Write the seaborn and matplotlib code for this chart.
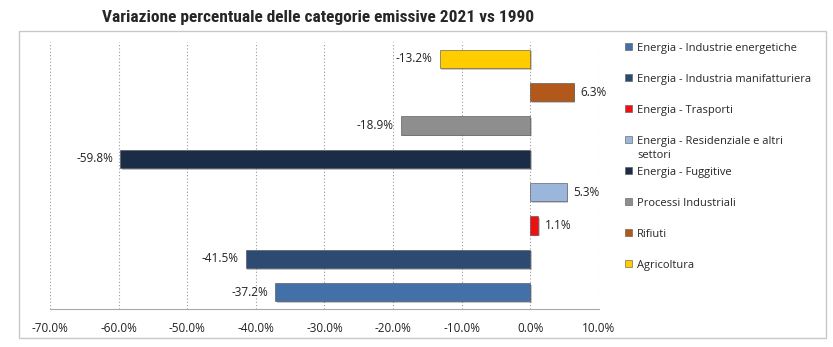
import matplotlib
matplotlib.use("Agg")
import matplotlib.pyplot as plt
import matplotlib.patheffects as pe
from matplotlib.patches import Patch, Rectangle
from matplotlib.ticker import FuncFormatter, MultipleLocator
import seaborn as sns
import pandas as pd

categories = [
    "Energia - Industrie energetiche",
    "Energia - Industria manifatturiera",
    "Energia - Trasporti",
    "Energia - Residenziale e altri settori",
    "Energia - Fuggitive",
    "Processi Industriali",
    "Rifiuti",
    "Agricoltura",
]
values = [-37.2, -41.5, 1.1, 5.3, -59.8, -18.9, 6.3, -13.2]
colors = ["#4470a9", "#2c4a72", "#ee1111", "#9ab6da", "#1a2c46", "#8e8e8e", "#b2581a", "#ffcc00"]
title = "Variazione percentuale delle categorie emissive 2021 vs 1990"

df = pd.DataFrame({"categoria": categories, "valore": values})
palette = dict(zip(categories, colors))

sns.set_style("white")
plt.rcParams["font.family"] = ["Open Sans", "DejaVu Sans"]

fig = plt.figure(figsize=(8.33, 3.47), dpi=100)
ax = fig.add_axes([0.060, 0.1095, 0.659, 0.769])

order = categories[::-1]
sns.barplot(data=df, x="valore", y="categoria", hue="categoria", order=order,
            hue_order=categories, palette=palette, orient="h", dodge=False,
            width=0.55, legend=False, ax=ax, edgecolor="#4a4a4a", linewidth=0.4,
            saturation=1)

for p in ax.patches:
    p.set_path_effects([pe.SimplePatchShadow(offset=(1.2, -1.2), alpha=0.25), pe.Normal()])

for cont in ax.containers:
    ax.bar_label(cont, fmt="{:.1f}%", padding=5, fontsize=8.5, color="#222222")

ax.set_xlim(-70, 10)
ax.xaxis.set_major_locator(MultipleLocator(10))
ax.xaxis.set_major_formatter(FuncFormatter(lambda v, p: f"{v:.1f}%"))
ax.set_xlabel("")
ax.set_ylabel("")
ax.set_yticks([])
ax.grid(axis="x", linestyle=(0, (1, 2)), color="#9a9a9a", linewidth=0.8)
ax.set_axisbelow(True)
for s in ["top", "left", "right"]:
    ax.spines[s].set_visible(False)
ax.spines["bottom"].set_color("#a8a8a8")
ax.tick_params(axis="x", direction="out", length=5, color="#a8a8a8", labelsize=8.5,
               labelcolor="#222222", pad=4)

# legend
handles = []
labels = []
for c, col in zip(categories, colors):
    handles.append(Patch(facecolor=col, edgecolor="#555555", linewidth=0.4))
    labels.append(c.replace(" settori", "") if "Residenziale" in c else c)
leg = fig.legend(handles, labels, loc="upper left", bbox_to_anchor=(0.750, 0.877),
                 frameon=False, fontsize=8, handlelength=0.65, handleheight=0.65,
                 handletextpad=0.45, labelspacing=1.8, borderaxespad=0, borderpad=0)
fig.canvas.draw()
for t in leg.get_texts():
    if t.get_text() == "Energia - Residenziale e altri":
        bb = t.get_window_extent()
        fig.text(bb.x0 / fig.bbox.width, (bb.y0 - 3) / fig.bbox.height, "settori",
                 fontsize=8, va="top", ha="left", color=t.get_color())

fig.text(0.1224, 0.951, title, ha="left", va="center", fontsize=12.5, fontweight="bold",
         family=["Roboto Condensed", "Arial Narrow", "DejaVu Sans"])

fig.patches.append(Rectangle((19 / 833, 1 - 338 / 347), (826 - 19) / 833, (338 - 31) / 347,
                             transform=fig.transFigure, fill=False, edgecolor="#c8c8c8",
                             linewidth=1.0))

fig.savefig("out.png", dpi=100)
